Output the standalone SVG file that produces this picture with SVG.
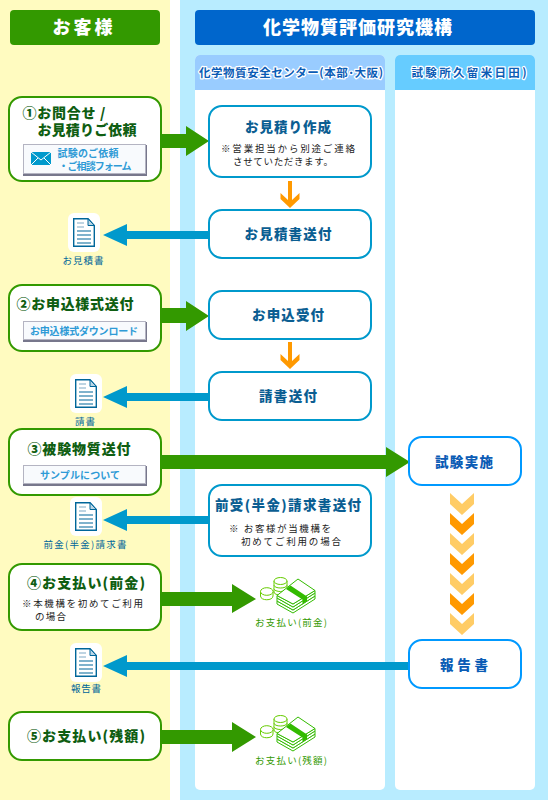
<svg xmlns="http://www.w3.org/2000/svg" width="548" height="800" viewBox="0 0 548 800">
<style>
text{font-family:"Noto Sans CJK JP","Liberation Sans",sans-serif;text-anchor:middle}
.halo{paint-order:stroke;stroke:#fff;stroke-width:2.5px;stroke-linejoin:round}
.hd{font-size:18px;font-weight:900;fill:#fff}
.col{font-size:11.5px;font-weight:700;fill:#0B5CB5}
.cust{fill:#fff;stroke:#339900;stroke-width:2}
.org{fill:#fff;stroke:#0099CC;stroke-width:2}
.lab{fill:#fff;stroke:#0099FF;stroke-width:2}
.ct{font-size:14px;font-weight:900;fill:#0F5E12}
.ot{font-size:13.5px;font-weight:900;fill:#0B5E92}
.lt{font-size:13.5px;font-weight:900;fill:#0B5CB5}
.note{font-size:9.5px;fill:#222;text-anchor:start}
.cap{font-size:9.5px;fill:#00669A}
.mon{font-size:9.5px;fill:#339900}
.btn{font-size:10px;font-weight:700;fill:#2E9AD6}
.btnr{fill:#F8FAFD;stroke:#B4B4C2;stroke-width:1}
.btns{fill:#77778C}
.ga{fill:#339900}.ba{fill:#0099CC}.oa{fill:#FF9900}
.lc{fill:#FFCC66}.dc{fill:#FF9900}
</style>
<defs>
<g id="doc">
<rect x="-5" y="-5" width="32" height="39" rx="6" fill="#fff"/>
<path d="M0.7 0.7H15L21.3 7.5V28.3H0.7Z" fill="#fff" stroke="#00669A" stroke-width="1.4"/>
<path d="M15 0.7V7.500H21.3Z" fill="#BBD6E6" stroke="#00669A"/>
<path d="M4 5H11M4 9H11" stroke="#7FA9C6" stroke-width="1.2"/>
<path d="M4 13H18M4 17H18M4 21H18M4 25H18" stroke="#00669A" stroke-width="1.2"/>
</g>
<g id="money" stroke-width="1">
<g fill="#fff" stroke="#66CC00">
<path d="M0.500 14.500V19C0.500 24 13 24 13 19V14.500"/>
<ellipse cx="6.800" cy="14.500" rx="6.300" ry="3.800"/>
<path d="M14 4V15C14 19 27 19 27 15V4"/>
<path d="M14 8C14 12 27 12 27 8M14 11.500C14 15.500 27 15.500 27 11.500"/>
<ellipse cx="20.500" cy="4" rx="6.500" ry="3.500"/>
</g>
<g fill="#fff" stroke="#33BB00">
<path d="M17 27L33 36L55 22V19L33 33L17 24Z"/>
<path d="M17 24L33 33L55 19V16L33 30L17 21Z"/>
<path d="M17 21L33 30L55 16V13.500L33 27L17 18.500Z"/>
<path d="M17 18.500L38 2L55 13.500L33 27Z"/>
</g>
<path d="M26 12L30.500 8.500L47 19.500V24L42.500 27V22.500Z" fill="#33BB00"/>
</g>
<path id="chev" d="M0 0L12 11L24 0V11L12 22L0 11Z"/>
<path id="dn" d="M-2 0H2V19L9.500 12V18L0 27L-9.500 18V12L-2 19Z"/>
</defs>

<rect width="548" height="800" fill="#B8ECFF"/>
<rect width="170" height="800" fill="#FFFBC0"/>
<rect x="170" width="10" height="800" fill="#fff"/>

<g id="header-customer"><rect x="10" y="10" width="150" height="35" rx="4" fill="#339900"/><text class="hd" x="84" y="34" letter-spacing="3">お客様</text></g>
<g id="header-org"><rect x="195" y="10" width="340" height="35" rx="4" fill="#0066CC"/><text class="hd" x="358" y="34" letter-spacing="1">化学物質評価研究機構</text></g>

<g id="column-center"><rect x="195" y="55" width="190" height="735" rx="5" fill="#fff"/><path d="M195 90V60A5 5 0 0 1 200 55H380A5 5 0 0 1 385 60V90Z" fill="#99CCFF"/><text class="col halo" x="291" y="77" textLength="184">化学物質安全センター(本部･大阪)</text></g>
<g id="column-lab"><rect x="395" y="55" width="140" height="735" rx="5" fill="#fff"/><path d="M395 90V60A5 5 0 0 1 400 55H530A5 5 0 0 1 535 60V90Z" fill="#66CCFF"/><text class="col halo" x="469" y="77" textLength="115">試験所久留米日田)</text></g>

<g id="connectors">
<path class="ga" d="M161 134H186V126L209 141L186 156V148H161Z"/>
<path class="ga" d="M161 308H186V301L209 316L186 331V323H161Z"/>
<path class="ga" d="M161 455H386V447L410 462L386 477V469H161Z"/>
<path class="ga" d="M161 592H232V584L256 599L232 613V606H161Z"/>
<path class="ga" d="M161 730H232V722L256 737L232 752V744H161Z"/>
<path class="ba" d="M209 231H127V224L103 235L127 246V239H209Z"/>
<path class="ba" d="M209 393H127V386L103 397L127 408V401H209Z"/>
<path class="ba" d="M209 516H127V509L103 520L127 531V524H209Z"/>
<path class="ba" d="M409 662H127V655L103 666L127 677V670H409Z"/>
<use href="#dn" class="oa" x="290" y="181"/>
<use href="#dn" class="oa" x="290" y="342"/>
<use href="#chev" class="lc" x="450" y="493"/>
<use href="#chev" class="dc" x="450" y="513"/>
<use href="#chev" class="lc" x="450" y="533"/>
<use href="#chev" class="dc" x="450" y="553"/>
<use href="#chev" class="lc" x="450" y="573"/>
<use href="#chev" class="dc" x="450" y="593"/>
<use href="#chev" class="lc" x="450" y="613"/>
</g>

<g id="step1"><rect class="cust" x="9" y="97" width="152" height="84" rx="13"/>
<text class="ct halo" x="64" y="118" textLength="83">①お問合せ /</text><text class="ct halo" x="87" y="135" textLength="99">お見積りご依頼</text>
<rect class="btns" x="23" y="145" width="124" height="31"/><rect class="btnr" x="23.500" y="144.500" width="122" height="29"/>
<path d="M31 152H51V165H31Z" fill="#0099CC"/><path d="M31 152L41 160L51 152M31 165L38 158M51 165L44 158" fill="none" stroke="#fff"/>
<text class="btn" x="88" y="157" textLength="61">試験のご依頼</text><text class="btn" x="95" y="170" textLength="73">・ご相談フォーム</text></g>

<g id="step2"><rect class="cust" x="9" y="285" width="152" height="66" rx="13"/>
<text class="ct halo" x="75" y="309" textLength="117">②お申込様式送付</text>
<rect class="btns" x="23" y="322" width="124" height="20"/><rect class="btnr" x="23.500" y="321.500" width="122" height="18"/>
<text class="btn" x="84" y="335" textLength="108">お申込様式ダウンロード</text></g>

<g id="step3"><rect class="cust" x="9" y="429" width="152" height="66" rx="13"/>
<text class="ct halo" x="79" y="454" textLength="103">③被験物質送付</text>
<rect class="btns" x="23" y="466" width="124" height="20"/><rect class="btnr" x="23.500" y="465.500" width="122" height="18"/>
<text class="btn" x="80" y="479" textLength="80">サンプルについて</text></g>

<g id="step4"><rect class="cust" x="9" y="564" width="152" height="66" rx="13"/>
<text class="ct halo" x="86" y="588" textLength="118">④お支払い(前金)</text>
<text class="note" x="22" y="607" textLength="121">※本機構を初めてご利用</text><text class="note" x="35" y="620" textLength="31">の場合</text></g>

<g id="step5"><rect class="cust" x="9" y="712" width="152" height="48" rx="13"/>
<text class="ct halo" x="86" y="741" textLength="118">⑤お支払い(残額)</text></g>

<g id="estimate-make"><rect class="org" x="209" y="106" width="162" height="71" rx="13"/>
<text class="ot" x="288" y="132" textLength="86">お見積り作成</text>
<text class="note" x="221" y="152" textLength="134">※営業担当から別途ご連絡</text><text class="note" x="233" y="165" textLength="100">させていただきます。</text></g>
<g id="estimate-send"><rect class="org" x="209" y="210" width="162" height="48" rx="13"/><text class="ot" x="288" y="239" textLength="87">お見積書送付</text></g>
<g id="apply-receive"><rect class="org" x="209" y="291" width="162" height="48" rx="13"/><text class="ot" x="288" y="320" textLength="72">お申込受付</text></g>
<g id="invoice-send"><rect class="org" x="209" y="372" width="162" height="48" rx="13"/><text class="ot" x="288" y="401" textLength="58">請書送付</text></g>
<g id="advance-invoice"><rect class="org" x="209" y="485" width="162" height="71" rx="13"/>
<text class="ot" x="288" y="510" textLength="146">前受(半金)請求書送付</text>
<text class="note" x="229" y="532" textLength="102">※ お客様が当機構を</text><text class="note" x="241" y="545" textLength="100">初めてご利用の場合</text></g>
<g id="test"><rect class="lab" x="409" y="437" width="112" height="48" rx="13"/><text class="lt" x="464" y="467" textLength="58">試験実施</text></g>
<g id="report"><rect class="lab" x="409" y="640" width="112" height="48" rx="13"/><text class="lt" x="464" y="670" textLength="48">報告書</text></g>

<g id="doc-estimate"><use href="#doc" x="73" y="218"/><text class="cap" x="83" y="264" textLength="41">お見積書</text></g>
<g id="doc-invoice"><use href="#doc" x="75" y="379"/><text class="cap" x="85" y="425" textLength="20">請書</text></g>
<g id="doc-advance"><use href="#doc" x="75" y="502"/><text class="cap" x="85" y="548" textLength="83">前金(半金)請求書</text></g>
<g id="doc-report"><use href="#doc" x="75" y="648"/><text class="cap" x="86" y="692" textLength="30">報告書</text></g>

<g id="pay-advance"><use href="#money" x="260" y="577"/><text class="mon" x="291" y="626" textLength="72">お支払い(前金)</text></g>
<g id="pay-balance"><use href="#money" x="260" y="715"/><text class="mon" x="291" y="764" textLength="72">お支払い(残額)</text></g>
</svg>
